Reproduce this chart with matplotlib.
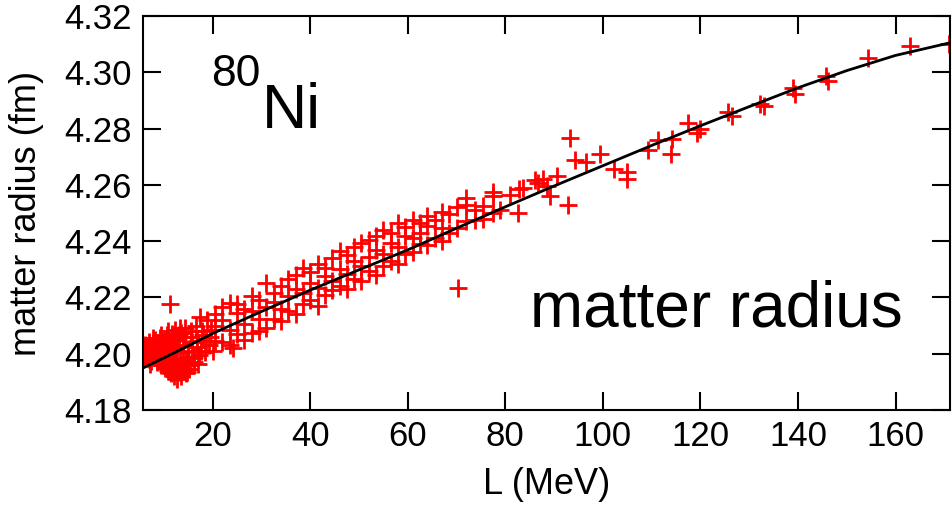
import matplotlib
matplotlib.use('agg')
import matplotlib.pyplot as plt
import numpy as np

plt.rcParams['font.family'] = ['Liberation Sans', 'DejaVu Sans']

# scatter of 80Ni matter radius vs L
L_pts = [5.8, 6.0, 6.2, 6.4, 6.6, 6.8, 7.0, 7.1, 7.2, 7.4, 7.6, 7.8, 8.0, 8.2, 8.4, 8.6, 8.8, 9.0,
         9.2, 9.4, 9.5, 9.6, 9.8, 10.0, 10.2, 10.4, 10.6, 10.8, 10.9, 11.0, 11.1, 11.2, 11.4, 11.6,
         11.8, 12.0, 12.2, 12.3, 12.4, 12.6, 12.8, 12.9, 13.0, 13.2, 13.4, 13.6, 13.8, 13.9, 14.0,
         14.2, 14.4, 14.6, 14.8, 15.0, 15.1, 15.3, 15.6, 15.9, 16.2, 16.5, 16.8, 17.1, 17.4, 17.7,
         18.0, 18.4, 18.8, 19.2, 19.6, 20.0,
         6.1, 6.9, 7.7, 8.5, 9.3, 10.1, 10.7, 11.3, 11.9, 12.5, 13.1, 13.7, 14.3, 14.9, 15.5,
         16.1, 16.7, 8.1, 9.1, 10.3, 11.5, 12.7, 13.3, 14.5, 15.7, 16.9, 17.9, 18.6, 19.4,
         11.2,
         20.5, 20.5, 20.5, 22.0, 22.0, 22.0, 23.5, 23.5, 23.5, 24.2, 25.0, 25.0, 25.0,
         26.5, 26.5, 26.5, 28.0, 28.0, 28.0, 29.5, 29.5, 29.5, 31.0, 31.0, 31.0,
         32.5, 32.5, 32.5, 34.0, 34.0, 34.0, 35.5, 35.5, 35.5, 37.0, 37.0, 37.0,
         38.5, 38.5, 38.5, 40.0, 40.0, 40.0, 41.5, 41.5, 41.5, 43.0, 43.0, 43.0,
         44.5, 44.5, 44.5, 46.0, 46.0, 46.0, 47.5, 47.5, 47.5, 49.0, 49.0, 49.0,
         50.5, 50.5, 50.5, 52.0, 52.0, 52.0, 53.5, 53.5, 53.5, 55.0, 55.0, 55.0,
         56.5, 56.5, 56.5, 58.0, 58.0, 58.0, 59.5, 59.5, 59.5, 61.0, 61.0, 61.0,
         62.5, 62.5, 62.5, 64.0, 64.0, 64.0, 65.5, 65.5, 67.0, 67.0, 67.0,
         68.5, 68.5, 70.0, 70.0, 70.3, 72.0, 72.0, 72.0, 73.8, 73.8, 75.5, 75.5,
         77.5, 77.5, 77.5, 79.0,
         81.0, 82.5, 82.7, 83.7, 86.1, 86.6, 87.8, 88.6, 89.2, 90.6, 92.8, 93.3, 94.2,
         96.5, 99.5, 102.3, 104.9, 104.9, 109.2, 111.4, 114.0, 114.2, 117.5, 119.3,
         119.9, 125.7, 126.5, 132.3, 133.0, 139.0, 139.3, 145.8, 146.2, 154.4, 163.0, 171.0]
R_pts = [4.2015, 4.1995, 4.2030, 4.2005, 4.1985, 4.2020, 4.2040, 4.1965, 4.2000, 4.1975, 4.2010,
         4.2035, 4.1990, 4.2050, 4.2015, 4.1970, 4.2030, 4.2000, 4.2055, 4.1960, 4.2065, 4.2020,
         4.1985, 4.2045, 4.1950, 4.2010, 4.2065, 4.1940, 4.2080, 4.1995, 4.1975, 4.2030, 4.1930,
         4.2070, 4.1965, 4.1920, 4.2015, 4.2085, 4.1945, 4.1910, 4.2050, 4.1955, 4.1935, 4.1985,
         4.2075, 4.1920, 4.1960, 4.2005, 4.2030, 4.1945, 4.2090, 4.1975, 4.1935, 4.2010, 4.1945,
         4.1960, 4.2060, 4.1985, 4.1990, 4.2100, 4.2025, 4.1995, 4.2130, 4.2010, 4.2065, 4.2005,
         4.2120, 4.2030, 4.2085, 4.2010,
         4.2025, 4.1980, 4.2055, 4.1980, 4.2040, 4.1965, 4.2025, 4.1955, 4.2050, 4.1970, 4.2065,
         4.1940, 4.2060, 4.1990, 4.2080, 4.1970, 4.2045, 4.2005, 4.1975, 4.2035, 4.1950, 4.2025,
         4.2090, 4.1930, 4.2040, 4.1965, 4.2080, 4.2045, 4.2060,
         4.2177,
         4.2045, 4.2100, 4.2140, 4.2040, 4.2120, 4.2165, 4.2030, 4.2085, 4.2180, 4.2021,
         4.2070, 4.2145, 4.2175,
         4.2050, 4.2105, 4.2160, 4.2075, 4.2150, 4.2205, 4.2080, 4.2125, 4.2190, 4.2090, 4.2165, 4.2250,
         4.2125, 4.2185, 4.2215, 4.2115, 4.2160, 4.2240, 4.2150, 4.2205, 4.2265, 4.2140, 4.2230, 4.2280,
         4.2175, 4.2215, 4.2305, 4.2190, 4.2250, 4.2290, 4.2170, 4.2235, 4.2320, 4.2210, 4.2275, 4.2305,
         4.2225, 4.2260, 4.2340, 4.2240, 4.2300, 4.2365, 4.2230, 4.2285, 4.2350, 4.2265, 4.2330, 4.2380,
         4.2260, 4.2310, 4.2395, 4.2295, 4.2345, 4.2405, 4.2280, 4.2370, 4.2420, 4.2310, 4.2355, 4.2440,
         4.2330, 4.2395, 4.2430, 4.2320, 4.2380, 4.2465, 4.2355, 4.2420, 4.2450, 4.2360, 4.2410, 4.2475,
         4.2390, 4.2430, 4.2465, 4.2385, 4.2455, 4.2490, 4.2410, 4.2475, 4.2400, 4.2445, 4.2505,
         4.2430, 4.2495, 4.2445, 4.2520, 4.2234, 4.2470, 4.2530, 4.2555, 4.2475, 4.2510, 4.2480, 4.2525,
         4.2500, 4.2560, 4.2575, 4.2510,
         4.2564, 4.2500, 4.2585, 4.2590, 4.2617, 4.2605, 4.2620, 4.2596, 4.2562, 4.2630, 4.2528,
         4.2767, 4.2688, 4.2680, 4.2708, 4.2655, 4.2645, 4.2620, 4.2724, 4.2759, 4.2710, 4.2762,
         4.2820, 4.2786, 4.2800, 4.2858, 4.2846, 4.2888, 4.2882, 4.2943, 4.2922, 4.2988, 4.2970,
         4.3050, 4.3095, 4.3100]

# black fit line
L_fit = [5.7, 10, 15, 20, 30, 40, 50, 60, 70, 80, 90, 100, 110, 120, 130, 140, 150, 160, 171.2]
R_fit = [4.1949, 4.1985, 4.2028, 4.2072, 4.2150, 4.2226, 4.2298, 4.2369, 4.2446, 4.2522,
         4.2596, 4.2668, 4.2740, 4.2810, 4.2878, 4.2945, 4.3006, 4.3060, 4.3105]

xticks = [20, 40, 60, 80, 100, 120, 140, 160]
yticks = [4.18, 4.20, 4.22, 4.24, 4.26, 4.28, 4.30, 4.32]

fig = plt.figure(figsize=(9.53, 5.17), dpi=100)
ax = fig.add_axes([0.150, 0.207, 0.847, 0.762])

ax.plot(L_pts, R_pts, linestyle='none', marker='+', markersize=13, mew=2.0, color='#ff0000')
ax.plot(L_fit, R_fit, color='black', lw=2.0)

ax.set_xlim(5.7, 171.2)
ax.set_ylim(4.18, 4.32)
ax.set_xticks(xticks)
ax.set_yticks(yticks)
ax.set_yticklabels([f"{t:.2f}" for t in yticks])
ax.tick_params(direction='in', length=13, width=1.5, top=True, right=True, labelsize=25)
ax.tick_params(axis='x', pad=7)
ax.tick_params(axis='y', pad=8)
for s in ax.spines.values():
    s.set_linewidth(1.5)

ax.set_xlabel('L (MeV)', fontsize=26, labelpad=10)
ax.set_ylabel('matter radius (fm)', fontsize=26, labelpad=15)

ax.text(0.084, 0.822, '80', transform=ax.transAxes, fontsize=32)
ax.text(0.147, 0.716, 'Ni', transform=ax.transAxes, fontsize=45)
ax.text(0.480, 0.213, 'matter radius', transform=ax.transAxes, fontsize=46)

plt.savefig('out.png', dpi=100)
